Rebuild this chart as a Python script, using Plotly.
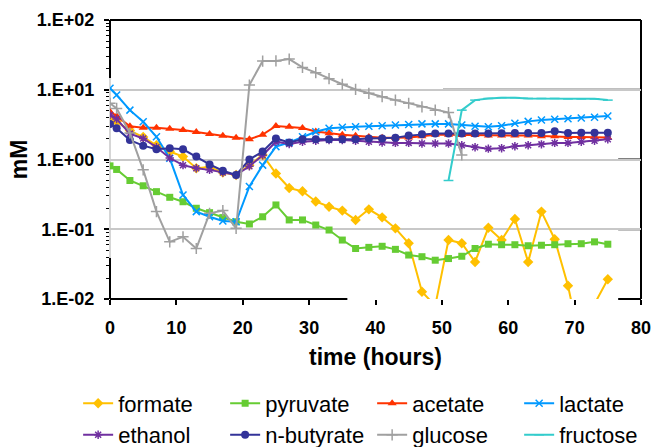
import plotly.graph_objects as go

times = [0, 1, 3, 5, 7, 9, 11, 13, 15, 17, 19, 21, 23, 25, 27, 29, 31, 33, 35, 37,
         39, 41, 43, 45, 47, 49, 51, 53, 55, 57, 59, 61, 63, 65, 67, 69, 71, 73, 75]

formate = [4.0, 3.5, 2.6, 2.1, 1.6, 1.3, 1.1, 0.75, 0.78, 0.65, 0.6,
           0.83, 1.16, 0.63, 0.39, 0.35, 0.25, 0.21, 0.185, 0.136, 0.193, 0.148, 0.103, 0.063, 0.0127, 0.008,
           0.07, 0.063, 0.034, 0.105, 0.07, 0.14, 0.034, 0.179, 0.072, 0.0155, 0.002, 0.0085, 0.0192]
pyruvate = [0.81, 0.72, 0.5, 0.42, 0.346, 0.287, 0.248, 0.2, 0.173, 0.147, 0.128,
            0.119, 0.151, 0.223, 0.136, 0.136, 0.115, 0.0975, 0.07, 0.053, 0.055, 0.057, 0.0515, 0.0427, 0.0404, 0.036,
            0.038, 0.041, 0.053, 0.061, 0.06, 0.06, 0.058, 0.059, 0.06, 0.062, 0.062, 0.066, 0.061]
acetate = [4.85, 4.2, 3.0, 2.86, 2.86, 2.77, 2.65, 2.48, 2.32, 2.19, 2.05,
           1.95, 2.27, 3.02, 2.95, 2.83, 2.52, 2.37, 2.27, 2.19, 2.1, 2.05, 2.05, 2.07, 2.15, 2.27,
           2.27, 2.25, 2.25, 2.2, 2.2, 2.2, 2.2, 2.15, 2.15, 2.1, 2.1, 2.1, 2.07]
lactate = [10.5, 8.4, 5.1, 3.48, 2.12, 1.04, 0.31, 0.179, 0.151, 0.131, 0.128,
           0.41, 0.83, 1.53, 1.75, 2.12, 2.5, 2.8, 2.9, 2.95, 3.0, 3.05, 3.13, 3.17, 3.24, 3.24,
           3.24, 3.13, 3.0, 2.95, 3.05, 3.3, 3.52, 3.68, 3.77, 3.85, 3.94, 4.03, 4.2]
ethanol = [4.35, 3.8, 2.35, 2.0, 1.5, 1.05, 0.83, 0.75, 0.71, 0.65, 0.6,
           0.8, 1.15, 1.8, 1.67, 1.8, 1.85, 1.9, 1.9, 1.85, 1.8, 1.75, 1.73, 1.73, 1.7, 1.7,
           1.7, 1.6, 1.5, 1.43, 1.45, 1.55, 1.6, 1.65, 1.73, 1.73, 1.8, 1.85, 1.95]
n_butyrate = [3.23, 2.8, 1.9, 1.58, 1.4, 1.45, 1.4, 1.1, 0.85, 0.69, 0.6,
              1.0, 1.3, 2.0, 1.75, 1.95, 1.95, 1.95, 1.95, 1.95, 2.0, 2.0, 2.05, 2.2, 2.3, 2.35,
              2.35, 2.35, 2.35, 2.35, 2.38, 2.4, 2.4, 2.4, 2.55, 2.4, 2.42, 2.42, 2.42]
glucose = [6.4, 5.4, 2.4, 0.71, 0.179, 0.066, 0.078, 0.053, 0.169, 0.185, 0.103,
           11.7, 25.8, 25.9, 27.5, 20.9, 17.6, 14.4, 12.0, 10.1, 8.9, 7.95, 7.1, 6.4, 5.7, 5.1,
           4.7, 1.16] + [None] * 11
fructose = [None] * 26 + [0.5, 5.1, 7.1, 7.5, 7.7, 7.7, 7.5, 7.5, 7.5, 7.4, 7.4, 7.4, 7.1]

y_tickvals = [0.01, 0.1, 1, 10, 100]
y_ticktext = ["1.E-02", "1.E-01", "1.E+00", "1.E+01", "1.E+02"]
x_tickvals = [0, 10, 20, 30, 40, 50, 60, 70, 80]

series = [
    ("formate", formate, "#FFC000", "diamond", 8),
    ("pyruvate", pyruvate, "#66CC33", "square", 7),
    ("acetate", acetate, "#FF3300", "triangle-up", 8),
    ("lactate", lactate, "#0099FF", "x-thin", 7),
    ("ethanol", ethanol, "#7030A0", "asterisk", 7),
    ("n-butyrate", n_butyrate, "#333399", "circle", 8),
    ("glucose", glucose, "#A0A0A0", "cross-thin", 8),
    ("fructose", fructose, "#33CCCC", "line-ew", 7),
]

FONT = "Liberation Sans, Arial, sans-serif"

fig = go.Figure()
for name, vals, color, sym, size in series:
    thin = sym in ("x-thin", "asterisk", "cross-thin", "line-ew")
    marker = dict(symbol=sym, size=size, color=color)
    if thin:
        marker["line"] = dict(color=color, width=1.5)
    fig.add_trace(go.Scatter(
        x=times, y=vals, name=name, mode="lines+markers",
        line=dict(color=color, width=2),
        marker=marker, connectgaps=False,
    ))

minor_vals = [m * 10 ** e for e in range(-2, 2) for m in range(2, 10)]

gridc = "#C8C8C8"
fig.update_layout(
    width=653, height=447,
    margin=dict(l=109.5, r=12, t=20, b=148, autoexpand=False),
    paper_bgcolor="white", plot_bgcolor="white",
    font=dict(family=FONT, color="black"),
    showlegend=True,
    legend=dict(
        orientation="h", x=-0.06, xanchor="left", y=-0.299, yanchor="top",
        font=dict(family=FONT, size=22, color="black"),
        entrywidth=102, entrywidthmode="pixels", itemwidth=30,
        traceorder="normal", bgcolor="rgba(0,0,0,0)",
    ),
    xaxis=dict(
        range=[0, 80], tickvals=x_tickvals, showgrid=False, zeroline=False,
        showline=False, ticks="outside", ticklen=5, tickwidth=1.5, tickcolor="black",
        tickfont=dict(family=FONT, size=18, color="black", weight="bold"),
        ticklabelstandoff=7,
        title=dict(text="time (hours)", standoff=12,
                   font=dict(family=FONT, size=23, color="black", weight="bold")),
    ),
    yaxis=dict(
        type="log", range=[-2, 2], tickvals=y_tickvals, ticktext=y_ticktext,
        showgrid=True, gridcolor=gridc, gridwidth=1.5, zeroline=False,
        showline=False, ticks="outside", ticklen=5, tickwidth=1.5, tickcolor="black",
        tickfont=dict(family=FONT, size=18, color="black", weight="bold"),
        ticklabelstandoff=6,
        minor=dict(tickvals=minor_vals, ticks="outside", ticklen=3, tickwidth=1,
                   tickcolor="black", showgrid=False),
        title=dict(text="mM", standoff=2,
                   font=dict(family=FONT, size=23, color="black", weight="bold")),
    ),
)

def seg(x0, x1, y0, y1, color="black", width=2):
    return dict(type="line", xref="x domain", yref="y domain",
                x0=x0, x1=x1, y0=y0, y1=y1, layer="below",
                line=dict(color=color, width=width))

shapes = [
    seg(0, 0, 0, 1, color=gridc, width=1.5),
    seg(0, 0, 0.792, 1),
    seg(0, 0, 0, 0.147),
    seg(0, 1, 1, 1),
    seg(1, 1, 0, 1),
    seg(0, 0.447, 0, 0),
    seg(0.957, 1, 0, 0),
    seg(0.627, 1, 0.75, 0.75),
    seg(0.957, 1, 0.5, 0.5),
    seg(0.957, 1, 0.25, 0.25),
]
fig.update_layout(shapes=shapes)

fig.write_html(
    "out.html",
    config={"displayModeBar": False},
    post_script="document.body.style.margin='0';document.body.style.overflow='hidden';",
)
